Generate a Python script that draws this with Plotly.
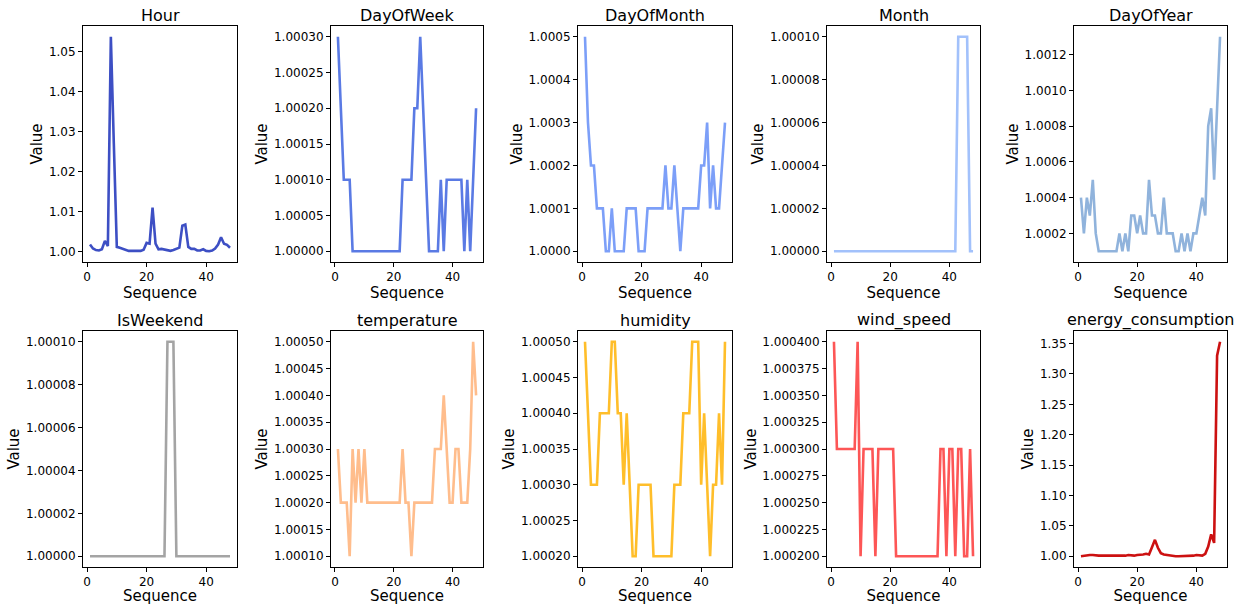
import plotly.graph_objects as go

seq = list(range(1, 49))

hour = [1.0018, 1.0008, 1.0004, 1.0003, 1.0006, 1.0027, 1.0014, 1.0538, 1.027, 1.0012,
        1.0010, 1.0007, 1.0003, 1.0002, 1.0002, 1.0002, 1.0002, 1.0002, 1.0005, 1.0022,
        1.0020, 1.0110, 1.0020, 1.0006, 1.0007, 1.0005, 1.0003, 1.0002, 1.0004, 1.0008,
        1.0010, 1.0065, 1.0068, 1.0012, 1.0007, 1.0007, 1.0003, 1.0003, 1.0006, 1.0002,
        1.0001, 1.0003, 1.0008, 1.0018, 1.0036, 1.0020, 1.0017, 1.0010]

day_of_week = [1.0003, 1.0002, 1.0001, 1.0001, 1.0001, 1.0, 1.0, 1.0, 1.0, 1.0,
               1.0, 1.0, 1.0, 1.0, 1.0, 1.0, 1.0, 1.0, 1.0, 1.0,
               1.0, 1.0, 1.0001, 1.0001, 1.0001, 1.0001, 1.0002, 1.0002, 1.0003, 1.0002,
               1.0001, 1.0, 1.0, 1.0, 1.0, 1.0001, 1.0, 1.0001, 1.0001, 1.0001,
               1.0001, 1.0001, 1.0001, 1.0, 1.0001, 1.0, 1.0001, 1.0002]

day_of_month = [1.0005, 1.0003, 1.0002, 1.0002, 1.0001, 1.0001, 1.0001, 1.0, 1.0, 1.0001,
                1.0, 1.0, 1.0, 1.0, 1.0001, 1.0001, 1.0001, 1.0001, 1.0, 1.0,
                1.0, 1.0001, 1.0001, 1.0001, 1.0001, 1.0001, 1.0001, 1.0002, 1.0001, 1.0001,
                1.0002, 1.0001, 1.0, 1.0001, 1.0001, 1.0001, 1.0001, 1.0001, 1.0001, 1.0002,
                1.0002, 1.0003, 1.0001, 1.0002, 1.0001, 1.0001, 1.0002, 1.0003]

month = [1.0] * 42 + [1.0001, 1.0001, 1.0001, 1.0001, 1.0, 1.0]

day_of_year = [1.0004, 1.0002, 1.0004, 1.0003, 1.0005, 1.0002, 1.0001, 1.0001, 1.0001, 1.0001,
               1.0001, 1.0001, 1.0001, 1.0002, 1.0001, 1.0002, 1.0001, 1.0003, 1.0003, 1.0002,
               1.0003, 1.0002, 1.0002, 1.0005, 1.0003, 1.0003, 1.0002, 1.0002, 1.0004, 1.0002,
               1.0002, 1.0002, 1.0001, 1.0001, 1.0002, 1.0001, 1.0002, 1.0001, 1.0002, 1.0002,
               1.0003, 1.0004, 1.0003, 1.0008, 1.0009, 1.0005, 1.0009, 1.0013]

is_weekend = [1.0] * 26 + [1.0001, 1.0001, 1.0001] + [1.0] * 19

temperature = [1.0003, 1.0002, 1.0002, 1.0002, 1.0001, 1.0003, 1.0002, 1.0003, 1.0002, 1.0003,
               1.0002, 1.0002, 1.0002, 1.0002, 1.0002, 1.0002, 1.0002, 1.0002, 1.0002, 1.0002,
               1.0002, 1.0002, 1.0003, 1.0002, 1.0002, 1.0001, 1.0002, 1.0002, 1.0002, 1.0002,
               1.0002, 1.0002, 1.0002, 1.0003, 1.0003, 1.0003, 1.0004, 1.0003, 1.0002, 1.0002,
               1.0003, 1.0003, 1.0002, 1.0002, 1.0002, 1.0003, 1.0005, 1.0004]

humidity = [1.0005, 1.0004, 1.0003, 1.0003, 1.0003, 1.0004, 1.0004, 1.0004, 1.0004, 1.0005,
            1.0005, 1.0004, 1.0004, 1.0003, 1.0004, 1.0003, 1.0002, 1.0002, 1.0003, 1.0003,
            1.0003, 1.0003, 1.0003, 1.0002, 1.0002, 1.0002, 1.0002, 1.0002, 1.0002, 1.0002,
            1.0003, 1.0003, 1.0003, 1.0004, 1.0004, 1.0004, 1.0005, 1.0005, 1.0005, 1.0003,
            1.0004, 1.0003, 1.0002, 1.0003, 1.0003, 1.0004, 1.0003, 1.0005]

wind_speed = [1.0004, 1.0003, 1.0003, 1.0003, 1.0003, 1.0003, 1.0003, 1.0003, 1.0004, 1.0002,
              1.0003, 1.0003, 1.0003, 1.0003, 1.0002, 1.0003, 1.0003, 1.0003, 1.0003, 1.0003,
              1.0003, 1.0002, 1.0002, 1.0002, 1.0002, 1.0002, 1.0002, 1.0002, 1.0002, 1.0002,
              1.0002, 1.0002, 1.0002, 1.0002, 1.0002, 1.0002, 1.0003, 1.0003, 1.0002, 1.0003,
              1.0003, 1.0002, 1.0003, 1.0003, 1.0002, 1.0002, 1.0003, 1.0002]

energy = [1.000, 1.001, 1.002, 1.002, 1.002, 1.001, 1.001, 1.001, 1.001, 1.000,
          1.000, 1.000, 1.000, 1.001, 1.001, 1.001, 1.002, 1.001, 1.001, 1.002,
          1.002, 1.003, 1.004, 1.003, 1.015, 1.027, 1.014, 1.005, 1.003, 1.002,
          1.001, 1.001, 1.000, 1.000, 1.000, 1.000, 1.000, 1.001, 1.001, 1.002,
          1.002, 1.001, 1.004, 1.016, 1.036, 1.022, 1.330, 1.353]

names = ["Hour", "DayOfWeek", "DayOfMonth", "Month", "DayOfYear",
         "IsWeekend", "temperature", "humidity", "wind_speed", "energy_consumption"]
series = [hour, day_of_week, day_of_month, month, day_of_year,
          is_weekend, temperature, humidity, wind_speed, energy]
colors = ["#3d4fc4", "#5a7ae4", "#7c9ff8", "#a2c1fb", "#90b3dc",
          "#a4a4a4", "#ffbd8c", "#ffbe2a", "#fd5656", "#cc1111"]
# (tick0, dtick, format)
yticks = [(1.0, 0.01, ".2f"), (1.0, 0.00005, ".5f"), (1.0, 0.0001, ".4f"),
          (1.0, 0.00002, ".5f"), (1.0002, 0.0002, ".4f"),
          (1.0, 0.00002, ".5f"), (1.0001, 0.00005, ".5f"), (1.0002, 0.00005, ".5f"),
          (1.0002, 0.000025, ".6f"), (1.0, 0.05, ".2f")]

W, H = 1250, 605
cols_px = [(83, 237), (331, 483), (578, 732), (827, 980), (1074, 1227)]
rows_px = [(26, 262), (331, 567)]

fig = go.Figure()
font = "DejaVu Sans, sans-serif"
annotations = []

for i, (name, ys) in enumerate(zip(names, series)):
    r, c = divmod(i, 5)
    n = i + 1
    xa = "x" if n == 1 else "x%d" % n
    ya = "y" if n == 1 else "y%d" % n
    fig.add_trace(go.Scatter(x=seq, y=ys, mode="lines", xaxis=xa, yaxis=ya,
                             line=dict(color=colors[i], width=2.6), showlegend=False))
    x0, x1 = cols_px[c]
    t, b = rows_px[r]
    ymin, ymax = min(ys), max(ys)
    pad = (ymax - ymin) * 0.05
    xpad = (seq[-1] - seq[0]) * 0.05
    t0, dt, fmt = yticks[i]
    axis_common = dict(showline=True, linecolor="black", linewidth=1, mirror=True,
                       ticks="outside", ticklen=4, tickcolor="black", showgrid=False,
                       zeroline=False, tickfont=dict(size=12, color="black", family=font))
    fig.layout["xaxis" if n == 1 else "xaxis%d" % n] = dict(
        domain=[x0 / W, x1 / W], anchor=ya,
        range=[seq[0] - xpad, seq[-1] + xpad], tick0=0, dtick=20,
        title=dict(text="Sequence", font=dict(size=15, color="black", family=font), standoff=0),
        **axis_common)
    fig.layout["yaxis" if n == 1 else "yaxis%d" % n] = dict(
        domain=[1 - b / H, 1 - t / H], anchor=xa,
        range=[ymin - pad, ymax + pad], tick0=t0, dtick=dt, tickformat=fmt,
        title=dict(text="Value", font=dict(size=15, color="black", family=font), standoff=2),
        **axis_common)
    annotations.append(dict(text=name, x=(x0 + x1) / 2 / W, y=1 - t / H, xref="paper", yref="paper",
                            xanchor="center", yanchor="bottom", yshift=-1, showarrow=False,
                            font=dict(size=16, color="black", family=font)))

fig.update_layout(width=W, height=H, margin=dict(l=0, r=0, t=0, b=0),
                  paper_bgcolor="white", plot_bgcolor="white", annotations=annotations)
# drop the default page margin so the figure fills the window exactly
fig.write_html("out.html", config={"displayModeBar": False},
               post_script="document.body.style.margin='0';")
